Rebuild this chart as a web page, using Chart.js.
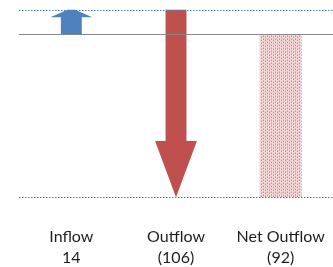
<!DOCTYPE html>
<html>
<head>
<meta charset="utf-8">
<script src="https://cdn.jsdelivr.net/npm/chart.js@4"></script>
<style>
  html, body { margin: 0; padding: 0; background: #fff; }
  #wrap { width: 333px; height: 267px; }
</style>
</head>
<body>
<div id="wrap"><canvas id="flowChart"></canvas></div>
<script>
// ---- data ----
const categories = ['Inflow', 'Outflow', 'Net Outflow'];
const valueLabels = ['14', '(106)', '(92)'];
const barStarts = [0, 14, 0];
const barEnds = [14, -92, -92];
const arrowBars = [true, true, false];   // drawn as arrows, not plain bars
const refLines = [14, -92];              // dotted guide lines

const blue = '#4f81bd';
const red = '#c0504d';

// dotted pink fill for the net bar
function makePattern() {
  const c = document.createElement('canvas');
  c.width = 4; c.height = 3;
  const g = c.getContext('2d');
  g.fillStyle = '#f6d8d8';
  g.fillRect(0, 0, 4, 3);
  g.fillStyle = '#dc8080';
  g.fillRect(1, 1, 1, 1);
  g.fillRect(3, 0, 1, 1);
  g.fillStyle = '#e9abab';
  g.fillRect(1, 0, 1, 1);
  g.fillRect(3, 2, 1, 1);
  return g.createPattern(c, 'repeat');
}

// arrows drawn from the bar elements' own geometry
const arrowPlugin = {
  id: 'arrows',
  afterDatasetsDraw(chart) {
    const ctx = chart.ctx;
    const meta = chart.getDatasetMeta(0);
    const colors = [blue, red];
    meta.data.forEach((bar, i) => {
      if (!arrowBars[i]) return;
      const p = bar.getProps(['x', 'width'], true);
      const start = chart.scales.y.getPixelForValue(barStarts[i]);
      const end = chart.scales.y.getPixelForValue(barEnds[i]);
      const dir = end > start ? 1 : -1;
      const len = Math.abs(end - start);
      const headLen = len * 0.3;
      const half = p.width / 2;
      const shaft = half / 2;
      const tipHalf = Math.max(0, half - headLen * 2.3);
      const hb = end - dir * headLen;
      ctx.save();
      ctx.fillStyle = colors[i];
      ctx.beginPath();
      ctx.moveTo(p.x - shaft, start);
      ctx.lineTo(p.x - shaft, hb);
      ctx.lineTo(p.x - half, hb);
      ctx.lineTo(p.x - tipHalf, end);
      ctx.lineTo(p.x + tipHalf, end);
      ctx.lineTo(p.x + half, hb);
      ctx.lineTo(p.x + shaft, hb);
      ctx.lineTo(p.x + shaft, start);
      ctx.closePath();
      ctx.fill();
      ctx.restore();
    });

    // zero line and dotted guides on top
    const area = chart.chartArea;
    const y = chart.scales.y;
    ctx.save();
    ctx.lineWidth = 1;
    ctx.strokeStyle = '#868686';
    const y0 = Math.round(y.getPixelForValue(0)) + 0.5;
    ctx.beginPath();
    ctx.moveTo(area.left, y0);
    ctx.lineTo(area.right, y0);
    ctx.stroke();

    ctx.setLineDash([1.5, 1.5]);
    ctx.lineWidth = 1.2;
    [blue, red].forEach((col, k) => {
      const yy = Math.round(y.getPixelForValue(refLines[k])) + 0.5;
      ctx.strokeStyle = col;
      ctx.beginPath();
      ctx.moveTo(area.left, yy);
      ctx.lineTo(area.right, yy);
      ctx.stroke();
    });
    ctx.restore();
  }
};

const pattern = makePattern();

new Chart(document.getElementById('flowChart'), {
  type: 'bar',
  data: {
    labels: categories.map((c, i) => [c, valueLabels[i]]),
    datasets: [{
      data: barStarts.map((s, i) => [s, barEnds[i]]),
      backgroundColor: arrowBars.map((a) => a ? 'rgba(0,0,0,0)' : pattern),
      borderWidth: 0,
      barPercentage: 0.4,
      categoryPercentage: 1.0
    }]
  },
  plugins: [arrowPlugin],
  options: {
    responsive: true,
    maintainAspectRatio: false,
    animation: false,
    layout: { padding: { left: 19, right: 0, top: 0, bottom: -4 } },
    plugins: { legend: { display: false }, tooltip: { enabled: false } },
    scales: {
      x: {
        grid: { display: false, drawTicks: false },
        border: { display: false },
        ticks: {
          color: '#1e1e1e',
          padding: 3,
          maxRotation: 0,
          font: { family: 'Lato', size: 16, lineHeight: 1.29 }
        }
      },
      y: {
        display: false,
        min: -107,
        max: 19.5
      }
    }
  }
});
</script>
</body>
</html>
